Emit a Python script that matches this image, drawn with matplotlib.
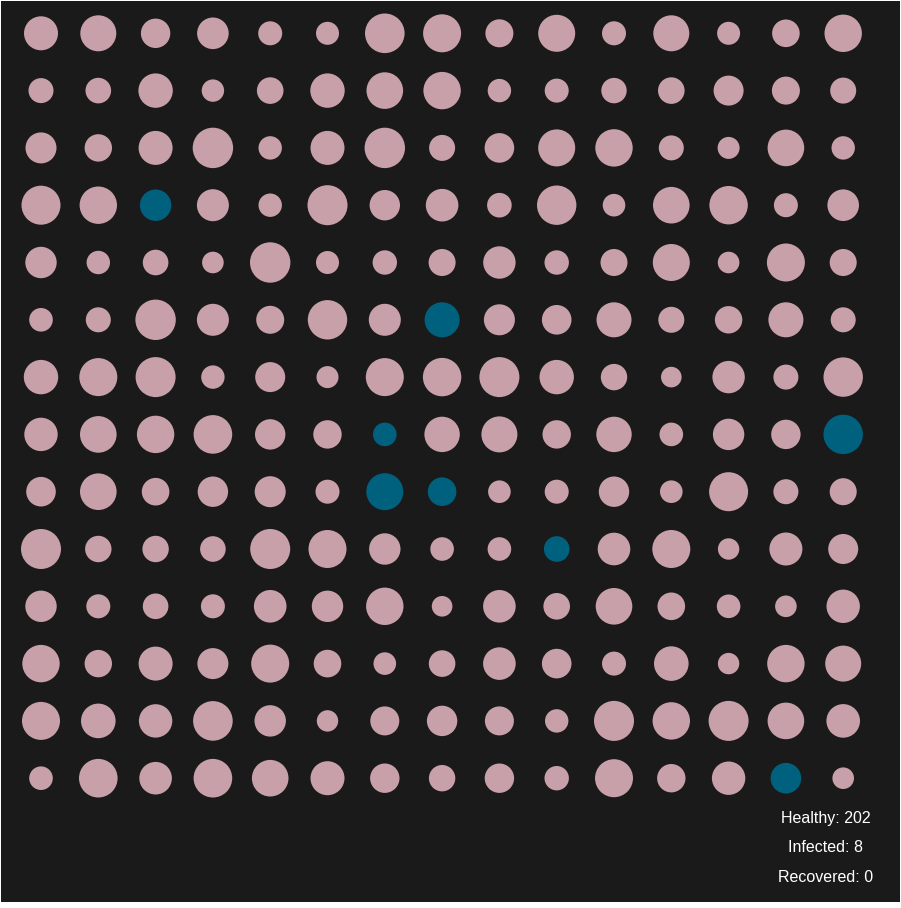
import matplotlib.pyplot as plt
from matplotlib.patches import Circle, Rectangle

# radius of each person (pixels), row by row, 15 per row
radii = [
    [17, 18, 14.7, 15.8, 12, 11.5, 19.8, 19, 14, 18.5, 12, 18, 11.5, 13.8, 18.7],
    [12.5, 12.8, 17.2, 11.2, 13.3, 17.2, 18.3, 18.7, 11.7, 12, 12.7, 13.3, 15, 14, 13],
    [15.5, 13.7, 17, 20.2, 11.7, 17, 20.2, 13, 14.8, 18.5, 18.7, 12.5, 11, 18.3, 11.7],
    [19.5, 18.7, 15.7, 16, 11.7, 20, 15.2, 16.3, 12.3, 19.7, 11.3, 18.3, 19.2, 12, 15.8],
    [15.7, 11.7, 12.8, 10.8, 20.2, 11.5, 12.2, 13.5, 16.2, 12.2, 13.5, 18.5, 10.8, 19, 13.5],
    [11.8, 12.5, 20.2, 16, 14, 19.7, 16, 17.5, 15.5, 14.8, 17.5, 13, 13.7, 17.5, 12.5],
    [17.2, 19, 20, 11.7, 15, 11, 19, 19.2, 20, 17.2, 13.2, 10.3, 16.2, 12.5, 19.7],
    [16.7, 18.3, 18.7, 19.3, 15.2, 14.2, 11.8, 17.7, 18, 14.2, 17.7, 11.8, 15.7, 14.7, 19.7],
    [14.8, 18.3, 13.8, 15.2, 15.5, 12, 18.5, 14.3, 11.3, 12, 15.2, 11.3, 19.5, 12.5, 13.5],
    [20, 13.2, 13.2, 12.8, 20, 19, 15.7, 11.8, 11.8, 12.8, 16.3, 19, 10.7, 16.5, 15],
    [15.7, 12, 12.8, 12, 16.3, 15.7, 18.7, 10.3, 16.3, 13.3, 18.3, 13.8, 11.8, 10.8, 16.7],
    [18.7, 13.7, 17, 15.5, 19, 13.8, 11.3, 13.3, 16.3, 14.8, 12, 17.3, 10.7, 18.7, 18],
    [19, 17.3, 16.7, 19.8, 15.7, 10.7, 14.5, 15.2, 14.5, 11.7, 20, 18.7, 20, 18.3, 16.8],
    [11.8, 19.3, 16.3, 19.3, 18.3, 17, 14.7, 13.2, 14.7, 12.2, 19, 14.2, 16.7, 15.3, 10.8],
]

# (row, col) of infected people
infected = [(3, 2), (5, 7), (7, 6), (7, 14), (8, 6), (8, 7), (9, 9), (13, 13)]

healthy_count = 202
infected_count = 8
recovered_count = 0

healthy_color = '#c8a0a9'
infected_color = '#00617f'
bg_color = '#1a1a1a'

fig = plt.figure(figsize=(9.01, 9.08), dpi=100)
fig.patch.set_facecolor('white')
ax = fig.add_axes([0, 0, 1, 1])
ax.set_xlim(0, 901)
ax.set_ylim(908, 0)
ax.axis('off')

ax.add_patch(Rectangle((1, 1), 899, 901, facecolor=bg_color, edgecolor='none'))

x0, y0, step = 41, 33.3, 57.3
for r, row in enumerate(radii):
    for c, rad in enumerate(row):
        color = infected_color if (r, c) in infected else healthy_color
        ax.add_patch(Circle((x0 + c * step, y0 + r * step), rad,
                            facecolor=color, edgecolor='none'))

labels = ['Healthy: %d' % healthy_count,
          'Infected: %d' % infected_count,
          'Recovered: %d' % recovered_count]
for i, txt in enumerate(labels):
    ax.text(826, 818 + i * 30, txt, color='white', fontsize=11.5,
            family='Liberation Sans', ha='center', va='center')

fig.savefig('out.png', dpi=100, facecolor=fig.get_facecolor())
